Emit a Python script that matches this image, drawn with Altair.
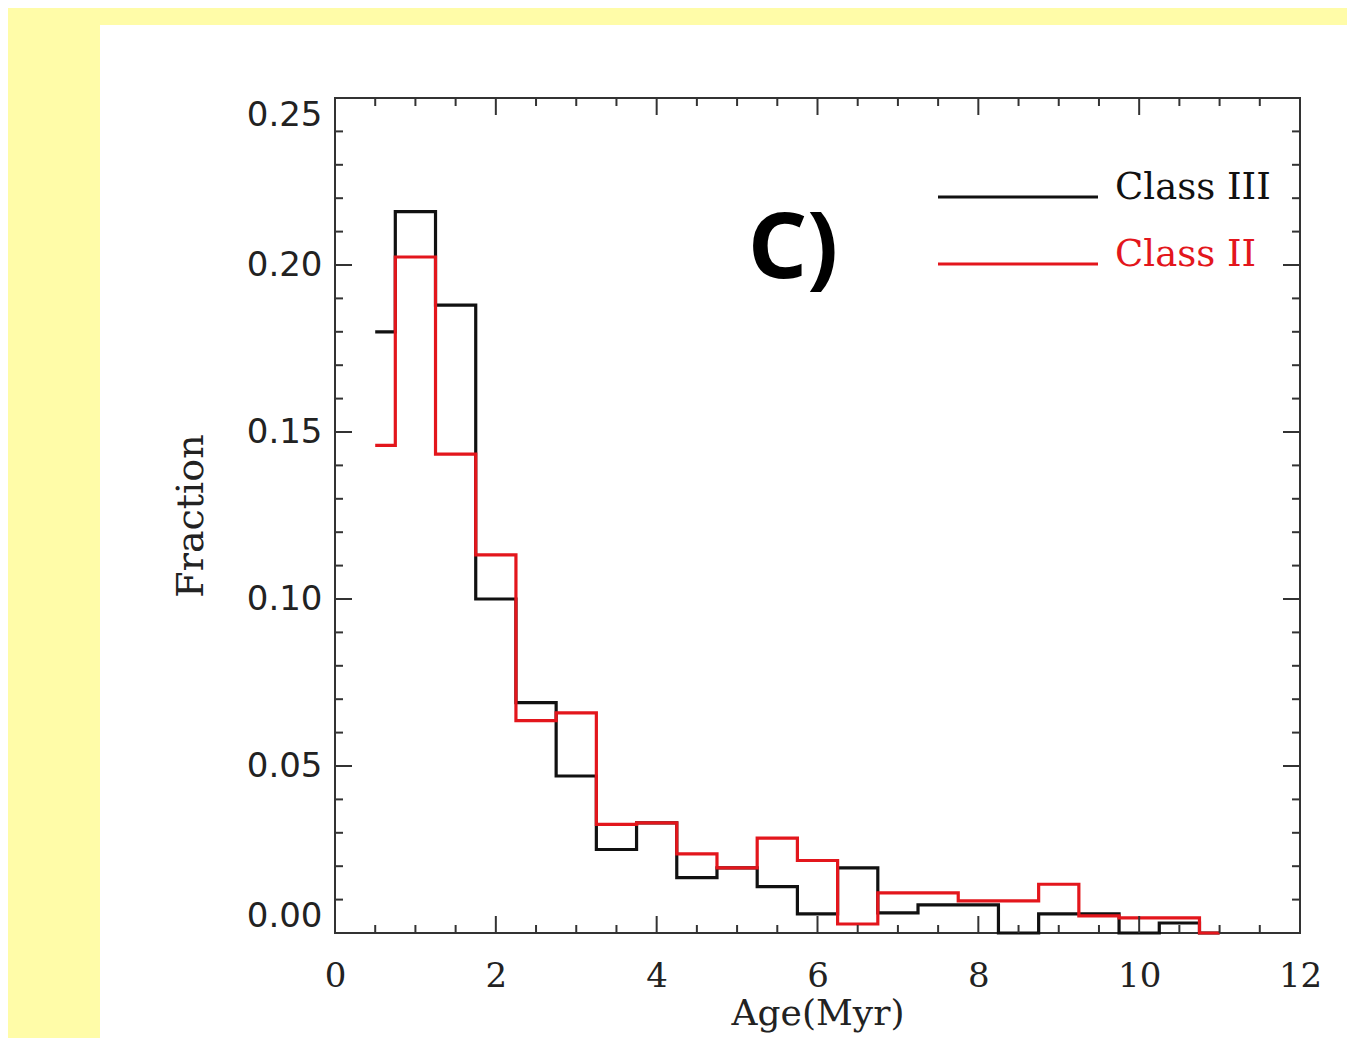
import altair as alt
import pandas as pd

# ---- data ----
ages = [0.5, 1.0, 1.5, 2.0, 2.5, 3.0, 3.5, 4.0, 4.5, 5.0, 5.5, 6.0,
        6.5, 7.0, 7.5, 8.0, 8.5, 9.0, 9.5, 10.0, 10.5, 11.0]
class_iii = [0.180, 0.216, 0.188, 0.100, 0.069, 0.047, 0.025, 0.033, 0.0166, 0.0195, 0.0139, 0.0057,
             0.0195, 0.0060, 0.0084, 0.0084, 0.0, 0.0057, 0.0057, 0.0, 0.0030, 0.0]
class_ii = [0.146, 0.2024, 0.1434, 0.1132, 0.0636, 0.0659, 0.0325, 0.0330, 0.0237, 0.0195, 0.0284, 0.0217,
            0.0027, 0.0120, 0.0120, 0.0096, 0.0096, 0.0146, 0.0051, 0.0045, 0.0045, 0.0]

x_major = [0, 2, 4, 6, 8, 10, 12]
x_minor = [v / 2 for v in range(0, 25) if v % 4 != 0]
y_major = [0.0, 0.05, 0.10, 0.15, 0.20, 0.25]
y_minor = [v / 100 for v in range(0, 26) if v % 5 != 0]

legend_labels = ["Class III", "Class II"]
legend_colors = ["#111111", "#e3161c"]
panel_label = "C)"

W, H = 965, 835
BLACK, RED = legend_colors

xs = alt.Scale(domain=[0, 12], nice=False, zero=False)
ys = alt.Scale(domain=[0, 0.25], nice=False, zero=False)

df3 = pd.DataFrame({"age": ages, "frac": class_iii})
df2 = pd.DataFrame({"age": ages, "frac": class_ii})

one = pd.DataFrame({"a": [0]})

# white panel behind the plot
panel = alt.Chart(one).mark_rect(color="white", clip=False).encode(
    x=alt.value(-235), x2=alt.value(1030), y=alt.value(-73), y2=alt.value(960)
)
# plot frame
frame = alt.Chart(one).mark_rect(fill="white", stroke="#333", strokeWidth=2).encode(
    x=alt.value(0), x2=alt.value(W), y=alt.value(0), y2=alt.value(H)
)

base_x_axis = alt.Axis(values=x_major, format="d", ticks=False, domain=False, grid=False,
                       labelFlush=False,
                       labelFont="DejaVu Serif", labelFontSize=34, labelColor="#222",
                       labelPadding=26, title="Age(Myr)", titleFont="DejaVu Serif",
                       titleFontSize=36, titleFontWeight="normal", titleColor="#222",
                       titlePadding=3, zindex=1)
base_y_axis = alt.Axis(values=y_major, format=".2f", ticks=False, domain=False, grid=False,
                       labelFont="DejaVu Sans", labelFontSize=34, labelColor="#222",
                       labelPadding=13, labelFlush=True, title="Fraction",
                       titleFont="DejaVu Serif", titleFontSize=38, titleFontWeight="normal",
                       titleColor="#222", titlePadding=36, zindex=1)

line3 = alt.Chart(df3).mark_line(interpolate="step", color=BLACK, strokeWidth=3.2).encode(
    x=alt.X("age:Q", scale=xs, axis=base_x_axis),
    y=alt.Y("frac:Q", scale=ys, axis=base_y_axis),
)
line2 = alt.Chart(df2).mark_line(interpolate="step", color=RED, strokeWidth=3.2).encode(
    x=alt.X("age:Q", scale=xs),
    y=alt.Y("frac:Q", scale=ys),
)

tick_color = "#333"
def xticks(vals, length):
    d = pd.DataFrame({"v": vals})
    bottom = alt.Chart(d).mark_rule(color=tick_color, strokeWidth=2).encode(
        x=alt.X("v:Q", scale=xs), y=alt.value(H), y2=alt.value(H - length))
    top = alt.Chart(d).mark_rule(color=tick_color, strokeWidth=2).encode(
        x=alt.X("v:Q", scale=xs), y=alt.value(0), y2=alt.value(length))
    return [bottom, top]

def yticks(vals, length):
    d = pd.DataFrame({"v": vals})
    left = alt.Chart(d).mark_rule(color=tick_color, strokeWidth=2).encode(
        y=alt.Y("v:Q", scale=ys), x=alt.value(0), x2=alt.value(length))
    right = alt.Chart(d).mark_rule(color=tick_color, strokeWidth=2).encode(
        y=alt.Y("v:Q", scale=ys), x=alt.value(W), x2=alt.value(W - length))
    return [left, right]

tick_layers = xticks(x_major, 17) + xticks(x_minor, 8) + yticks(y_major, 17) + yticks(y_minor, 8)

# legend
leg_layers = []
for i, (lab, col) in enumerate(zip(legend_labels, legend_colors)):
    yy = 99 + i * 67
    row = pd.DataFrame({"label": [lab]})
    leg_layers.append(alt.Chart(row).mark_rule(color=col, strokeWidth=3).encode(
        x=alt.value(603), x2=alt.value(763), y=alt.value(yy)))
    leg_layers.append(alt.Chart(row).mark_text(
        color=col, font="DejaVu Serif", fontSize=37, align="left", baseline="middle").encode(
        x=alt.value(780), y=alt.value(yy - 9), text="label:N"))

panel_text = alt.Chart(pd.DataFrame({"t": [panel_label]})).mark_text(
    font="Noto Sans", fontSize=92, fontWeight="bold", color="black",
    align="center", baseline="middle").encode(
    x=alt.value(458), y=alt.value(152), text="t:N")

chart = alt.layer(panel, frame, line3, line2, *tick_layers, *leg_layers, panel_text).properties(
    width=W, height=H,
    autosize=alt.AutoSizeParams(type="none"),
    padding={"left": 327, "top": 90, "right": 47, "bottom": 105},
    background="#fffca8",
).configure_view(stroke=None, fill="white")

chart.save("out.html", embed_options={"renderer": "svg", "actions": False})
